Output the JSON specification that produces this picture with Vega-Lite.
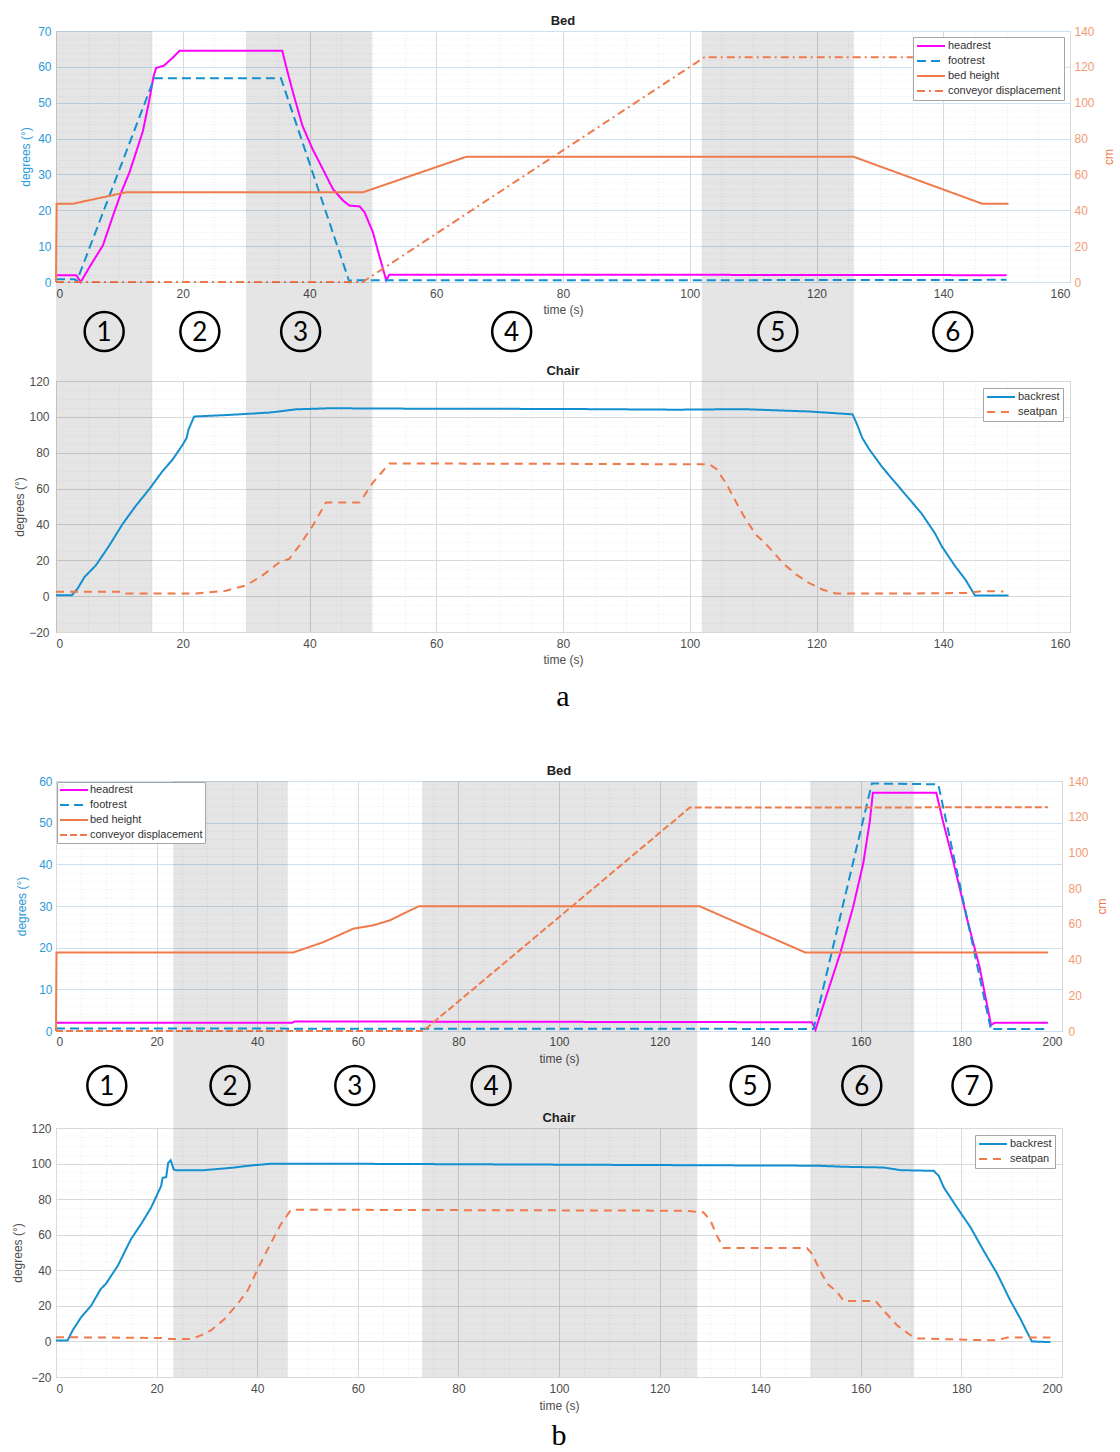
{
"$schema": "https://vega.github.io/schema/vega-lite/v6.json",
"padding": {"left": 11, "top": 14, "right": 0, "bottom": 0},
"bounds": "flush",
"spacing": 0,
"resolve": {"scale": {"color": "independent", "strokeDash": "independent"}},
"config": {
  "font": "Liberation Sans",
  "view": {"stroke": "#a6a6a6"},
  "axis": {"labelFont": "Liberation Sans", "labelFontSize": 12, "labelColor": "#4d4d4d", "titleFont": "Liberation Sans", "titleFontSize": 12, "titleFontWeight": "normal", "titleColor": "#4d4d4d", "domain": false, "ticks": false, "labelOverlap": false},
  "title": {"font": "Liberation Sans", "fontSize": 13, "fontWeight": "bold", "color": "#222222", "offset": -3},
  "legend": {"labelFont": "Liberation Sans", "clipHeight": 12}
},
"datasets": {
  "aReg": [{"start": 0, "end": 15.2}, {"start": 30, "end": 49.9}, {"start": 101.9, "end": 125.9}],
  "bReg": [{"start": 23.3, "end": 46.1}, {"start": 72.8, "end": 127.5}, {"start": 150, "end": 170.6}],
  "aCirc": [{"t": 7.6, "n": "1"}, {"t": 22.7, "n": "2"}, {"t": 38.6, "n": "3"}, {"t": 71.9, "n": "4"}, {"t": 113.9, "n": "5"}, {"t": 141.5, "n": "6"}],
  "bCirc": [{"t": 10.1, "n": "1"}, {"t": 34.6, "n": "2"}, {"t": 59.4, "n": "3"}, {"t": 86.5, "n": "4"}, {"t": 138, "n": "5"}, {"t": 160.2, "n": "6"}, {"t": 182.1, "n": "7"}],
  "aLab": [{"lab": "a"}],
  "bLab": [{"lab": "b"}],
  "aBed": [
    {"s": "headrest", "t": 0, "v": 1.9}, {"s": "headrest", "t": 3.2, "v": 1.9}, {"s": "headrest", "t": 3.9, "v": 0}, {"s": "headrest", "t": 5.3, "v": 4.2}, {"s": "headrest", "t": 7.4, "v": 10.2}, {"s": "headrest", "t": 8.9, "v": 18}, {"s": "headrest", "t": 10.3, "v": 25}, {"s": "headrest", "t": 11.6, "v": 30.6}, {"s": "headrest", "t": 12.6, "v": 36}, {"s": "headrest", "t": 13.7, "v": 42}, {"s": "headrest", "t": 14.7, "v": 50.5}, {"s": "headrest", "t": 15.4, "v": 57.4}, {"s": "headrest", "t": 15.8, "v": 59.7}, {"s": "headrest", "t": 16.4, "v": 60}, {"s": "headrest", "t": 17, "v": 60.3}, {"s": "headrest", "t": 18.4, "v": 62.5}, {"s": "headrest", "t": 19.5, "v": 64.5}, {"s": "headrest", "t": 35.7, "v": 64.5}, {"s": "headrest", "t": 36.3, "v": 60.2}, {"s": "headrest", "t": 37.4, "v": 52.8}, {"s": "headrest", "t": 38.9, "v": 43.5}, {"s": "headrest", "t": 40.5, "v": 37}, {"s": "headrest", "t": 42.1, "v": 31.5}, {"s": "headrest", "t": 43.7, "v": 25.9}, {"s": "headrest", "t": 45.3, "v": 22.7}, {"s": "headrest", "t": 46.3, "v": 21.3}, {"s": "headrest", "t": 47.9, "v": 21.1}, {"s": "headrest", "t": 48.7, "v": 19.4}, {"s": "headrest", "t": 50, "v": 13.9}, {"s": "headrest", "t": 51, "v": 7.4}, {"s": "headrest", "t": 52.1, "v": 0.5}, {"s": "headrest", "t": 52.6, "v": 2}, {"s": "headrest", "t": 100, "v": 2}, {"s": "headrest", "t": 150, "v": 1.9},
    {"s": "footrest", "t": 0, "v": 0.8}, {"s": "footrest", "t": 2.9, "v": 0.8}, {"s": "footrest", "t": 3.3, "v": 0.3}, {"s": "footrest", "t": 15.5, "v": 56.8}, {"s": "footrest", "t": 35.5, "v": 56.8}, {"s": "footrest", "t": 46.3, "v": 0}, {"s": "footrest", "t": 46.6, "v": 0.5}, {"s": "footrest", "t": 100, "v": 0.5}, {"s": "footrest", "t": 150, "v": 0.6},
    {"s": "bed height", "t": 0, "v": 0}, {"s": "bed height", "t": 0.1, "v": 43.6}, {"s": "bed height", "t": 2.6, "v": 43.6}, {"s": "bed height", "t": 11, "v": 50}, {"s": "bed height", "t": 48.4, "v": 50}, {"s": "bed height", "t": 64.7, "v": 69.8}, {"s": "bed height", "t": 125.9, "v": 69.8}, {"s": "bed height", "t": 146.2, "v": 43.6}, {"s": "bed height", "t": 150.3, "v": 43.6},
    {"s": "conveyor displacement", "t": 0, "v": 0}, {"s": "conveyor displacement", "t": 48.4, "v": 0}, {"s": "conveyor displacement", "t": 102.3, "v": 125.3}, {"s": "conveyor displacement", "t": 150.3, "v": 125.3}
  ],
  "aChair": [
    {"s": "backrest", "t": 0, "v": 0.5}, {"s": "backrest", "t": 2.5, "v": 0.5}, {"s": "backrest", "t": 3.4, "v": 4.2}, {"s": "backrest", "t": 4.5, "v": 10.7}, {"s": "backrest", "t": 6.3, "v": 17.2}, {"s": "backrest", "t": 8.4, "v": 28.2}, {"s": "backrest", "t": 10.5, "v": 40.2}, {"s": "backrest", "t": 12.6, "v": 50.4}, {"s": "backrest", "t": 14.7, "v": 59.6}, {"s": "backrest", "t": 16.8, "v": 69.7}, {"s": "backrest", "t": 18.4, "v": 76.2}, {"s": "backrest", "t": 20, "v": 84.5}, {"s": "backrest", "t": 20.6, "v": 88.2}, {"s": "backrest", "t": 20.9, "v": 92.8}, {"s": "backrest", "t": 21.8, "v": 100.2}, {"s": "backrest", "t": 27.4, "v": 101.1}, {"s": "backrest", "t": 33.7, "v": 102.4}, {"s": "backrest", "t": 37.9, "v": 104.2}, {"s": "backrest", "t": 43.2, "v": 104.8}, {"s": "backrest", "t": 53.7, "v": 104.6}, {"s": "backrest", "t": 80, "v": 104.4}, {"s": "backrest", "t": 97.9, "v": 104}, {"s": "backrest", "t": 108.4, "v": 104.3}, {"s": "backrest", "t": 118.8, "v": 103}, {"s": "backrest", "t": 125.7, "v": 101.4}, {"s": "backrest", "t": 126.4, "v": 95.8}, {"s": "backrest", "t": 127.2, "v": 88.4}, {"s": "backrest", "t": 128.3, "v": 82}, {"s": "backrest", "t": 130.4, "v": 71.8}, {"s": "backrest", "t": 133.5, "v": 58.9}, {"s": "backrest", "t": 136.6, "v": 46}, {"s": "backrest", "t": 138.7, "v": 35}, {"s": "backrest", "t": 139.8, "v": 27.6}, {"s": "backrest", "t": 141.9, "v": 16.6}, {"s": "backrest", "t": 143.5, "v": 9.2}, {"s": "backrest", "t": 145, "v": 0.4}, {"s": "backrest", "t": 150.3, "v": 0.4},
    {"s": "seatpan", "t": 0, "v": 2.5}, {"s": "seatpan", "t": 10.5, "v": 2.5}, {"s": "seatpan", "t": 11, "v": 1.5}, {"s": "seatpan", "t": 22.1, "v": 1.5}, {"s": "seatpan", "t": 26.8, "v": 3}, {"s": "seatpan", "t": 30, "v": 6}, {"s": "seatpan", "t": 32.6, "v": 11.6}, {"s": "seatpan", "t": 35.3, "v": 19}, {"s": "seatpan", "t": 36.8, "v": 20.8}, {"s": "seatpan", "t": 38.4, "v": 28.2}, {"s": "seatpan", "t": 40.5, "v": 39.3}, {"s": "seatpan", "t": 42.6, "v": 52.2}, {"s": "seatpan", "t": 47.9, "v": 52.2}, {"s": "seatpan", "t": 50, "v": 63.3}, {"s": "seatpan", "t": 52.6, "v": 74}, {"s": "seatpan", "t": 80, "v": 73.8}, {"s": "seatpan", "t": 103.1, "v": 73.5}, {"s": "seatpan", "t": 104.2, "v": 70.9}, {"s": "seatpan", "t": 105.8, "v": 62.6}, {"s": "seatpan", "t": 107.3, "v": 52.5}, {"s": "seatpan", "t": 108.9, "v": 42.4}, {"s": "seatpan", "t": 110.5, "v": 34.1}, {"s": "seatpan", "t": 111.8, "v": 29.8}, {"s": "seatpan", "t": 113.1, "v": 24.9}, {"s": "seatpan", "t": 114.7, "v": 18.4}, {"s": "seatpan", "t": 116.8, "v": 12}, {"s": "seatpan", "t": 118.8, "v": 7.4}, {"s": "seatpan", "t": 120.9, "v": 3.7}, {"s": "seatpan", "t": 123, "v": 1.5}, {"s": "seatpan", "t": 134.6, "v": 1.5}, {"s": "seatpan", "t": 144, "v": 1.8}, {"s": "seatpan", "t": 146.1, "v": 2.8}, {"s": "seatpan", "t": 149.5, "v": 2.6}
  ],
  "bBed": [
    {"s": "headrest", "t": 0, "v": 2}, {"s": "headrest", "t": 47, "v": 2}, {"s": "headrest", "t": 47.5, "v": 2.3}, {"s": "headrest", "t": 100, "v": 2.2}, {"s": "headrest", "t": 150.3, "v": 2.1}, {"s": "headrest", "t": 151, "v": 0.3}, {"s": "headrest", "t": 153.3, "v": 9}, {"s": "headrest", "t": 155.9, "v": 18.6}, {"s": "headrest", "t": 158.5, "v": 29.9}, {"s": "headrest", "t": 160.5, "v": 40.3}, {"s": "headrest", "t": 161.8, "v": 50.4}, {"s": "headrest", "t": 162.4, "v": 57.2}, {"s": "headrest", "t": 175, "v": 57.2}, {"s": "headrest", "t": 176.4, "v": 50}, {"s": "headrest", "t": 178.3, "v": 41.1}, {"s": "headrest", "t": 181, "v": 27.5}, {"s": "headrest", "t": 183.6, "v": 15.4}, {"s": "headrest", "t": 185.9, "v": 1.4}, {"s": "headrest", "t": 186.6, "v": 2}, {"s": "headrest", "t": 197.2, "v": 2},
    {"s": "footrest", "t": 0, "v": 0.6}, {"s": "footrest", "t": 150.6, "v": 0.5}, {"s": "footrest", "t": 162.2, "v": 59.4}, {"s": "footrest", "t": 175.4, "v": 59.2}, {"s": "footrest", "t": 185.9, "v": 0.2}, {"s": "footrest", "t": 186.5, "v": 0.5}, {"s": "footrest", "t": 197.2, "v": 0.5},
    {"s": "bed height", "t": 0, "v": 0}, {"s": "bed height", "t": 0.1, "v": 43.9}, {"s": "bed height", "t": 47.1, "v": 43.9}, {"s": "bed height", "t": 53.2, "v": 49.8}, {"s": "bed height", "t": 59.1, "v": 57.3}, {"s": "bed height", "t": 63.1, "v": 59.2}, {"s": "bed height", "t": 66.4, "v": 62}, {"s": "bed height", "t": 69.7, "v": 66.6}, {"s": "bed height", "t": 72.1, "v": 69.8}, {"s": "bed height", "t": 128, "v": 69.8}, {"s": "bed height", "t": 149, "v": 43.9}, {"s": "bed height", "t": 197.2, "v": 43.9},
    {"s": "conveyor displacement", "t": 0, "v": 0}, {"s": "conveyor displacement", "t": 73, "v": 0}, {"s": "conveyor displacement", "t": 126, "v": 125.1}, {"s": "conveyor displacement", "t": 197.2, "v": 125.3}
  ],
  "bChair": [
    {"s": "backrest", "t": 0, "v": 0.5}, {"s": "backrest", "t": 2.3, "v": 0.5}, {"s": "backrest", "t": 3.3, "v": 6.2}, {"s": "backrest", "t": 5, "v": 13.6}, {"s": "backrest", "t": 7, "v": 20.2}, {"s": "backrest", "t": 8.9, "v": 29.5}, {"s": "backrest", "t": 9.9, "v": 32.3}, {"s": "backrest", "t": 12.3, "v": 42.6}, {"s": "backrest", "t": 14.9, "v": 57.5}, {"s": "backrest", "t": 16.9, "v": 65.9}, {"s": "backrest", "t": 18.9, "v": 75.2}, {"s": "backrest", "t": 20.9, "v": 87.4}, {"s": "backrest", "t": 21.2, "v": 92}, {"s": "backrest", "t": 21.9, "v": 92.4}, {"s": "backrest", "t": 22.3, "v": 100.4}, {"s": "backrest", "t": 22.8, "v": 101.9}, {"s": "backrest", "t": 23.4, "v": 96.7}, {"s": "backrest", "t": 23.8, "v": 96.3}, {"s": "backrest", "t": 29.5, "v": 96.3}, {"s": "backrest", "t": 34.8, "v": 97.6}, {"s": "backrest", "t": 38.7, "v": 98.9}, {"s": "backrest", "t": 42.7, "v": 99.9}, {"s": "backrest", "t": 57.3, "v": 99.9}, {"s": "backrest", "t": 124.7, "v": 99.1}, {"s": "backrest", "t": 151.3, "v": 98.8}, {"s": "backrest", "t": 156.6, "v": 98.2}, {"s": "backrest", "t": 164.5, "v": 97.8}, {"s": "backrest", "t": 167.9, "v": 96.3}, {"s": "backrest", "t": 174.5, "v": 95.9}, {"s": "backrest", "t": 175.5, "v": 93.1}, {"s": "backrest", "t": 176.5, "v": 86.6}, {"s": "backrest", "t": 179.1, "v": 75.4}, {"s": "backrest", "t": 181.8, "v": 64.2}, {"s": "backrest", "t": 184.4, "v": 51.1}, {"s": "backrest", "t": 187.1, "v": 38.1}, {"s": "backrest", "t": 189.7, "v": 23.1}, {"s": "backrest", "t": 191.7, "v": 12.9}, {"s": "backrest", "t": 194, "v": 0}, {"s": "backrest", "t": 197.7, "v": -0.4},
    {"s": "seatpan", "t": 0, "v": 2.4}, {"s": "seatpan", "t": 8.9, "v": 2.2}, {"s": "seatpan", "t": 21, "v": 1.9}, {"s": "seatpan", "t": 22.8, "v": 1.3}, {"s": "seatpan", "t": 26.8, "v": 1.3}, {"s": "seatpan", "t": 28.8, "v": 3.4}, {"s": "seatpan", "t": 30.8, "v": 6.2}, {"s": "seatpan", "t": 33.4, "v": 12.3}, {"s": "seatpan", "t": 36.1, "v": 21.1}, {"s": "seatpan", "t": 38.1, "v": 28.6}, {"s": "seatpan", "t": 40.1, "v": 40.7}, {"s": "seatpan", "t": 42.1, "v": 51.9}, {"s": "seatpan", "t": 44.7, "v": 65.9}, {"s": "seatpan", "t": 46.7, "v": 74}, {"s": "seatpan", "t": 57.3, "v": 74}, {"s": "seatpan", "t": 124.7, "v": 73.5}, {"s": "seatpan", "t": 128.7, "v": 72.6}, {"s": "seatpan", "t": 130.1, "v": 68}, {"s": "seatpan", "t": 131.4, "v": 59.5}, {"s": "seatpan", "t": 132.7, "v": 52.5}, {"s": "seatpan", "t": 149.3, "v": 52.5}, {"s": "seatpan", "t": 150.3, "v": 49.3}, {"s": "seatpan", "t": 151.9, "v": 39.9}, {"s": "seatpan", "t": 153.3, "v": 32.5}, {"s": "seatpan", "t": 155.3, "v": 27.8}, {"s": "seatpan", "t": 156.6, "v": 22.8}, {"s": "seatpan", "t": 162.9, "v": 22.8}, {"s": "seatpan", "t": 164.5, "v": 17.5}, {"s": "seatpan", "t": 167.2, "v": 9.1}, {"s": "seatpan", "t": 169.9, "v": 3.5}, {"s": "seatpan", "t": 171.2, "v": 1.7}, {"s": "seatpan", "t": 184.4, "v": 0.7}, {"s": "seatpan", "t": 187.1, "v": 0.7}, {"s": "seatpan", "t": 189.1, "v": 2.2}, {"s": "seatpan", "t": 197.7, "v": 2.2}
  ]
},
"vconcat": [
  {
    "width": 1014, "height": 251,
    "title": "Bed",
    "layer": [
      {"data": {"name": "aReg"}, "mark": {"type": "rect", "fill": "#000000", "opacity": 0.1},
       "encoding": {
         "x": {"field": "start", "type": "quantitative", "scale": {"domain": [0, 160], "nice": false, "zero": false},
               "axis": {"title": "time (s)", "values": [0,5,10,15,20,25,30,35,40,45,50,55,60,65,70,75,80,85,90,95,100,105,110,115,120,125,130,135,140,145,150,155,160], "labelExpr": "datum.value % 20 === 0 ? datum.label : ''", "gridColor": {"condition": {"test": "datum.value % 20 === 0", "value": "#d9d9d9"}, "value": "#ececec"}, "gridDash": {"condition": {"test": "datum.value % 20 === 0", "value": []}, "value": [1, 2]}, "labelPadding": 6, "titlePadding": 5}},
         "x2": {"field": "end"}}},
      {"data": {"name": "aBed"}, "transform": [{"filter": {"field": "s", "oneOf": ["headrest", "footrest"]}}],
       "mark": {"type": "line", "strokeWidth": 2},
       "encoding": {
         "x": {"field": "t", "type": "quantitative", "scale": {"domain": [0, 160], "nice": false, "zero": false},
               "axis": {"title": "time (s)", "values": [0,5,10,15,20,25,30,35,40,45,50,55,60,65,70,75,80,85,90,95,100,105,110,115,120,125,130,135,140,145,150,155,160], "labelExpr": "datum.value % 20 === 0 ? datum.label : ''", "gridColor": {"condition": {"test": "datum.value % 20 === 0", "value": "#d9d9d9"}, "value": "#ececec"}, "gridDash": {"condition": {"test": "datum.value % 20 === 0", "value": []}, "value": [1, 2]}, "labelPadding": 6, "titlePadding": 5}},
         "y": {"field": "v", "type": "quantitative", "scale": {"domain": [0, 70], "nice": false},
               "axis": {"orient": "left", "title": "degrees (°)", "values": [0,2,4,6,8,10,12,14,16,18,20,22,24,26,28,30,32,34,36,38,40,42,44,46,48,50,52,54,56,58,60,62,64,66,68,70], "labelExpr": "datum.value % 10 === 0 ? datum.label : ''", "labelColor": "#2a9ad8", "titleColor": "#2a9ad8", "labelPadding": 5, "titlePadding": 5, "gridColor": {"condition": {"test": "datum.value % 10 === 0", "value": "#cfe1ef"}, "value": "#e4eef7"}, "gridDash": {"condition": {"test": "datum.value % 10 === 0", "value": []}, "value": [1, 2]}}},
         "color": {"field": "s", "type": "nominal", "scale": {"domain": ["headrest", "footrest", "bed height", "conveyor displacement"], "range": ["#ff00ff", "#148fcf", "#ef7a4c", "#ef7a4c"]},
                   "legend": {"title": null, "orient": "top-right", "offset": 6, "fillColor": "white", "strokeColor": "#a6a6a6", "padding": 3, "symbolType": "stroke", "symbolSize": 784, "symbolStrokeWidth": 2, "labelFontSize": 11, "labelColor": "#333333", "rowPadding": 3, "labelOffset": 2}},
         "strokeDash": {"field": "s", "type": "nominal", "scale": {"domain": ["headrest", "footrest", "bed height", "conveyor displacement"], "range": [[1, 0], [9, 5], [1, 0], [8, 4, 2, 4]]},
                   "legend": {"title": null, "orient": "top-right", "offset": 6, "fillColor": "white", "strokeColor": "#a6a6a6", "padding": 3, "symbolType": "stroke", "symbolSize": 784, "symbolStrokeWidth": 2, "labelFontSize": 11, "labelColor": "#333333", "rowPadding": 3, "labelOffset": 2}}}},
      {"data": {"name": "aBed"}, "transform": [{"filter": {"field": "s", "oneOf": ["bed height", "conveyor displacement"]}}],
       "mark": {"type": "line", "strokeWidth": 2},
       "encoding": {
         "x": {"field": "t", "type": "quantitative", "scale": {"domain": [0, 160], "nice": false, "zero": false},
               "axis": {"title": "time (s)", "values": [0,5,10,15,20,25,30,35,40,45,50,55,60,65,70,75,80,85,90,95,100,105,110,115,120,125,130,135,140,145,150,155,160], "labelExpr": "datum.value % 20 === 0 ? datum.label : ''", "gridColor": {"condition": {"test": "datum.value % 20 === 0", "value": "#d9d9d9"}, "value": "#ececec"}, "gridDash": {"condition": {"test": "datum.value % 20 === 0", "value": []}, "value": [1, 2]}, "labelPadding": 6, "titlePadding": 5}},
         "y": {"field": "v", "type": "quantitative", "scale": {"domain": [0, 140], "nice": false},
               "axis": {"orient": "right", "title": "cm", "titleAngle": 270, "titleBaseline": "top", "values": [0, 20, 40, 60, 80, 100, 120, 140], "grid": false, "labelColor": "#f39a73", "titleColor": "#ef7a4c", "labelPadding": 4, "titlePadding": 9}},
         "color": {"field": "s", "type": "nominal", "scale": {"domain": ["headrest", "footrest", "bed height", "conveyor displacement"], "range": ["#ff00ff", "#148fcf", "#ef7a4c", "#ef7a4c"]},
                   "legend": {"title": null, "orient": "top-right", "offset": 6, "fillColor": "white", "strokeColor": "#a6a6a6", "padding": 3, "symbolType": "stroke", "symbolSize": 784, "symbolStrokeWidth": 2, "labelFontSize": 11, "labelColor": "#333333", "rowPadding": 3, "labelOffset": 2}},
         "strokeDash": {"field": "s", "type": "nominal", "scale": {"domain": ["headrest", "footrest", "bed height", "conveyor displacement"], "range": [[1, 0], [9, 5], [1, 0], [8, 4, 2, 4]]},
                   "legend": {"title": null, "orient": "top-right", "offset": 6, "fillColor": "white", "strokeColor": "#a6a6a6", "padding": 3, "symbolType": "stroke", "symbolSize": 784, "symbolStrokeWidth": 2, "labelFontSize": 11, "labelColor": "#333333", "rowPadding": 3, "labelOffset": 2}}}}
    ],
    "resolve": {"scale": {"y": "independent"}}
  },
  {
    "width": 1014, "height": 99,
    "view": {"stroke": null},
    "layer": [
      {"data": {"name": "aReg"}, "mark": {"type": "rect", "fill": "#000000", "opacity": 0.1},
       "encoding": {"x": {"field": "start", "type": "quantitative", "scale": {"domain": [0, 160], "nice": false, "zero": false}, "axis": null}, "x2": {"field": "end"}}},
      {"data": {"name": "aCirc"}, "mark": {"type": "point", "shape": "circle", "filled": false, "size": 1520, "stroke": "#000000", "strokeWidth": 2.5, "opacity": 1},
       "encoding": {"x": {"field": "t", "type": "quantitative", "scale": {"domain": [0, 160], "nice": false, "zero": false}, "axis": null}}},
      {"data": {"name": "aCirc"}, "mark": {"type": "text", "font": "Lato", "fontSize": 26, "color": "#000000", "baseline": "middle", "dy": 1},
       "encoding": {"x": {"field": "t", "type": "quantitative", "scale": {"domain": [0, 160], "nice": false, "zero": false}, "axis": null}, "text": {"field": "n"}}}
    ]
  },
  {
    "width": 1014, "height": 251,
    "title": "Chair",
    "layer": [
      {"data": {"name": "aReg"}, "mark": {"type": "rect", "fill": "#000000", "opacity": 0.1},
       "encoding": {
         "x": {"field": "start", "type": "quantitative", "scale": {"domain": [0, 160], "nice": false, "zero": false},
               "axis": {"title": "time (s)", "values": [0,5,10,15,20,25,30,35,40,45,50,55,60,65,70,75,80,85,90,95,100,105,110,115,120,125,130,135,140,145,150,155,160], "labelExpr": "datum.value % 20 === 0 ? datum.label : ''", "gridColor": {"condition": {"test": "datum.value % 20 === 0", "value": "#d9d9d9"}, "value": "#ececec"}, "gridDash": {"condition": {"test": "datum.value % 20 === 0", "value": []}, "value": [1, 2]}, "labelPadding": 6, "titlePadding": 5}},
         "x2": {"field": "end"}}},
      {"data": {"name": "aChair"}, "mark": {"type": "line", "strokeWidth": 2},
       "encoding": {
         "x": {"field": "t", "type": "quantitative", "scale": {"domain": [0, 160], "nice": false, "zero": false},
               "axis": {"title": "time (s)", "values": [0,5,10,15,20,25,30,35,40,45,50,55,60,65,70,75,80,85,90,95,100,105,110,115,120,125,130,135,140,145,150,155,160], "labelExpr": "datum.value % 20 === 0 ? datum.label : ''", "gridColor": {"condition": {"test": "datum.value % 20 === 0", "value": "#d9d9d9"}, "value": "#ececec"}, "gridDash": {"condition": {"test": "datum.value % 20 === 0", "value": []}, "value": [1, 2]}, "labelPadding": 6, "titlePadding": 5}},
         "y": {"field": "v", "type": "quantitative", "scale": {"domain": [-20, 120], "nice": false},
               "axis": {"title": "degrees (°)", "values": [-20,-15,-10,-5,0,5,10,15,20,25,30,35,40,45,50,55,60,65,70,75,80,85,90,95,100,105,110,115,120], "labelExpr": "datum.value % 20 === 0 ? datum.label : ''", "labelPadding": 7, "titlePadding": 2, "gridColor": {"condition": {"test": "datum.value % 20 === 0", "value": "#d9d9d9"}, "value": "#ececec"}, "gridDash": {"condition": {"test": "datum.value % 20 === 0", "value": []}, "value": [1, 2]}}},
         "color": {"field": "s", "type": "nominal", "scale": {"domain": ["backrest", "seatpan"], "range": ["#148fcf", "#ef7a4c"]},
                   "legend": {"title": null, "orient": "top-right", "offset": 7, "fillColor": "white", "strokeColor": "#a6a6a6", "padding": 3, "symbolType": "stroke", "symbolSize": 784, "symbolStrokeWidth": 2, "labelFontSize": 11, "labelColor": "#333333", "rowPadding": 3, "labelOffset": 2}},
         "strokeDash": {"field": "s", "type": "nominal", "scale": {"domain": ["backrest", "seatpan"], "range": [[1, 0], [8, 6]]},
                   "legend": {"title": null, "orient": "top-right", "offset": 7, "fillColor": "white", "strokeColor": "#a6a6a6", "padding": 3, "symbolType": "stroke", "symbolSize": 784, "symbolStrokeWidth": 2, "labelFontSize": 11, "labelColor": "#333333", "rowPadding": 3, "labelOffset": 2}}}}
    ]
  },
  {
    "width": 1014, "height": 149,
    "view": {"stroke": null},
    "data": {"name": "aLab"},
    "mark": {"type": "text", "font": "Liberation Serif", "fontSize": 30, "color": "#000000", "baseline": "middle", "dy": -10},
    "encoding": {"text": {"field": "lab"}}
  },
  {
    "width": 1006, "height": 250,
    "title": "Bed",
    "layer": [
      {"data": {"name": "bReg"}, "mark": {"type": "rect", "fill": "#000000", "opacity": 0.1},
       "encoding": {
         "x": {"field": "start", "type": "quantitative", "scale": {"domain": [0, 200], "nice": false, "zero": false},
               "axis": {"title": "time (s)", "values": [0,5,10,15,20,25,30,35,40,45,50,55,60,65,70,75,80,85,90,95,100,105,110,115,120,125,130,135,140,145,150,155,160,165,170,175,180,185,190,195,200], "labelExpr": "datum.value % 20 === 0 ? datum.label : ''", "gridColor": {"condition": {"test": "datum.value % 20 === 0", "value": "#d9d9d9"}, "value": "#ececec"}, "gridDash": {"condition": {"test": "datum.value % 20 === 0", "value": []}, "value": [1, 2]}, "labelPadding": 5, "titlePadding": 6}},
         "x2": {"field": "end"}}},
      {"data": {"name": "bBed"}, "transform": [{"filter": {"field": "s", "oneOf": ["headrest", "footrest"]}}],
       "mark": {"type": "line", "strokeWidth": 2},
       "encoding": {
         "x": {"field": "t", "type": "quantitative", "scale": {"domain": [0, 200], "nice": false, "zero": false},
               "axis": {"title": "time (s)", "values": [0,5,10,15,20,25,30,35,40,45,50,55,60,65,70,75,80,85,90,95,100,105,110,115,120,125,130,135,140,145,150,155,160,165,170,175,180,185,190,195,200], "labelExpr": "datum.value % 20 === 0 ? datum.label : ''", "gridColor": {"condition": {"test": "datum.value % 20 === 0", "value": "#d9d9d9"}, "value": "#ececec"}, "gridDash": {"condition": {"test": "datum.value % 20 === 0", "value": []}, "value": [1, 2]}, "labelPadding": 5, "titlePadding": 6}},
         "y": {"field": "v", "type": "quantitative", "scale": {"domain": [0, 60], "nice": false},
               "axis": {"orient": "left", "title": "degrees (°)", "values": [0,2,4,6,8,10,12,14,16,18,20,22,24,26,28,30,32,34,36,38,40,42,44,46,48,50,52,54,56,58,60], "labelExpr": "datum.value % 10 === 0 ? datum.label : ''", "labelColor": "#2a9ad8", "titleColor": "#2a9ad8", "labelPadding": 4, "titlePadding": 10, "gridColor": {"condition": {"test": "datum.value % 10 === 0", "value": "#cfe1ef"}, "value": "#e4eef7"}, "gridDash": {"condition": {"test": "datum.value % 10 === 0", "value": []}, "value": [1, 2]}}},
         "color": {"field": "s", "type": "nominal", "scale": {"domain": ["headrest", "footrest", "bed height", "conveyor displacement"], "range": ["#ff00ff", "#148fcf", "#ef7a4c", "#ef7a4c"]},
                   "legend": {"title": null, "orient": "top-left", "offset": 1, "fillColor": "white", "strokeColor": "#a6a6a6", "padding": 2, "symbolType": "stroke", "symbolSize": 784, "symbolStrokeWidth": 2, "labelFontSize": 11, "labelColor": "#333333", "rowPadding": 3, "labelOffset": 1}},
         "strokeDash": {"field": "s", "type": "nominal", "scale": {"domain": ["headrest", "footrest", "bed height", "conveyor displacement"], "range": [[1, 0], [9, 5], [1, 0], [7, 3]]},
                   "legend": {"title": null, "orient": "top-left", "offset": 1, "fillColor": "white", "strokeColor": "#a6a6a6", "padding": 2, "symbolType": "stroke", "symbolSize": 784, "symbolStrokeWidth": 2, "labelFontSize": 11, "labelColor": "#333333", "rowPadding": 3, "labelOffset": 1}}}},
      {"data": {"name": "bBed"}, "transform": [{"filter": {"field": "s", "oneOf": ["bed height", "conveyor displacement"]}}],
       "mark": {"type": "line", "strokeWidth": 2},
       "encoding": {
         "x": {"field": "t", "type": "quantitative", "scale": {"domain": [0, 200], "nice": false, "zero": false},
               "axis": {"title": "time (s)", "values": [0,5,10,15,20,25,30,35,40,45,50,55,60,65,70,75,80,85,90,95,100,105,110,115,120,125,130,135,140,145,150,155,160,165,170,175,180,185,190,195,200], "labelExpr": "datum.value % 20 === 0 ? datum.label : ''", "gridColor": {"condition": {"test": "datum.value % 20 === 0", "value": "#d9d9d9"}, "value": "#ececec"}, "gridDash": {"condition": {"test": "datum.value % 20 === 0", "value": []}, "value": [1, 2]}, "labelPadding": 5, "titlePadding": 6}},
         "y": {"field": "v", "type": "quantitative", "scale": {"domain": [0, 140], "nice": false},
               "axis": {"orient": "right", "title": "cm", "titleAngle": 270, "titleBaseline": "top", "values": [0, 20, 40, 60, 80, 100, 120, 140], "grid": false, "labelColor": "#f39a73", "titleColor": "#ef7a4c", "labelPadding": 6, "titlePadding": 8}},
         "color": {"field": "s", "type": "nominal", "scale": {"domain": ["headrest", "footrest", "bed height", "conveyor displacement"], "range": ["#ff00ff", "#148fcf", "#ef7a4c", "#ef7a4c"]},
                   "legend": {"title": null, "orient": "top-left", "offset": 1, "fillColor": "white", "strokeColor": "#a6a6a6", "padding": 2, "symbolType": "stroke", "symbolSize": 784, "symbolStrokeWidth": 2, "labelFontSize": 11, "labelColor": "#333333", "rowPadding": 3, "labelOffset": 1}},
         "strokeDash": {"field": "s", "type": "nominal", "scale": {"domain": ["headrest", "footrest", "bed height", "conveyor displacement"], "range": [[1, 0], [9, 5], [1, 0], [7, 3]]},
                   "legend": {"title": null, "orient": "top-left", "offset": 1, "fillColor": "white", "strokeColor": "#a6a6a6", "padding": 2, "symbolType": "stroke", "symbolSize": 784, "symbolStrokeWidth": 2, "labelFontSize": 11, "labelColor": "#333333", "rowPadding": 3, "labelOffset": 1}}}}
    ],
    "resolve": {"scale": {"y": "independent"}}
  },
  {
    "width": 1006, "height": 97,
    "view": {"stroke": null},
    "layer": [
      {"data": {"name": "bReg"}, "mark": {"type": "rect", "fill": "#000000", "opacity": 0.1},
       "encoding": {"x": {"field": "start", "type": "quantitative", "scale": {"domain": [0, 200], "nice": false, "zero": false}, "axis": null}, "x2": {"field": "end"}}},
      {"data": {"name": "bCirc"}, "mark": {"type": "point", "shape": "circle", "filled": false, "size": 1520, "stroke": "#000000", "strokeWidth": 2.5, "opacity": 1, "yOffset": 6},
       "encoding": {"x": {"field": "t", "type": "quantitative", "scale": {"domain": [0, 200], "nice": false, "zero": false}, "axis": null}}},
      {"data": {"name": "bCirc"}, "mark": {"type": "text", "font": "Lato", "fontSize": 26, "color": "#000000", "baseline": "middle", "dy": 7},
       "encoding": {"x": {"field": "t", "type": "quantitative", "scale": {"domain": [0, 200], "nice": false, "zero": false}, "axis": null}, "text": {"field": "n"}}}
    ]
  },
  {
    "width": 1006, "height": 249,
    "title": "Chair",
    "layer": [
      {"data": {"name": "bReg"}, "mark": {"type": "rect", "fill": "#000000", "opacity": 0.1},
       "encoding": {
         "x": {"field": "start", "type": "quantitative", "scale": {"domain": [0, 200], "nice": false, "zero": false},
               "axis": {"title": "time (s)", "values": [0,5,10,15,20,25,30,35,40,45,50,55,60,65,70,75,80,85,90,95,100,105,110,115,120,125,130,135,140,145,150,155,160,165,170,175,180,185,190,195,200], "labelExpr": "datum.value % 20 === 0 ? datum.label : ''", "gridColor": {"condition": {"test": "datum.value % 20 === 0", "value": "#d9d9d9"}, "value": "#ececec"}, "gridDash": {"condition": {"test": "datum.value % 20 === 0", "value": []}, "value": [1, 2]}, "labelPadding": 6, "titlePadding": 6}},
         "x2": {"field": "end"}}},
      {"data": {"name": "bChair"}, "mark": {"type": "line", "strokeWidth": 2},
       "encoding": {
         "x": {"field": "t", "type": "quantitative", "scale": {"domain": [0, 200], "nice": false, "zero": false},
               "axis": {"title": "time (s)", "values": [0,5,10,15,20,25,30,35,40,45,50,55,60,65,70,75,80,85,90,95,100,105,110,115,120,125,130,135,140,145,150,155,160,165,170,175,180,185,190,195,200], "labelExpr": "datum.value % 20 === 0 ? datum.label : ''", "gridColor": {"condition": {"test": "datum.value % 20 === 0", "value": "#d9d9d9"}, "value": "#ececec"}, "gridDash": {"condition": {"test": "datum.value % 20 === 0", "value": []}, "value": [1, 2]}, "labelPadding": 6, "titlePadding": 6}},
         "y": {"field": "v", "type": "quantitative", "scale": {"domain": [-20, 120], "nice": false},
               "axis": {"title": "degrees (°)", "values": [-20,-15,-10,-5,0,5,10,15,20,25,30,35,40,45,50,55,60,65,70,75,80,85,90,95,100,105,110,115,120], "labelExpr": "datum.value % 20 === 0 ? datum.label : ''", "labelPadding": 5, "titlePadding": 6, "gridColor": {"condition": {"test": "datum.value % 20 === 0", "value": "#d9d9d9"}, "value": "#ececec"}, "gridDash": {"condition": {"test": "datum.value % 20 === 0", "value": []}, "value": [1, 2]}}},
         "color": {"field": "s", "type": "nominal", "scale": {"domain": ["backrest", "seatpan"], "range": ["#148fcf", "#ef7a4c"]},
                   "legend": {"title": null, "orient": "top-right", "offset": 7, "fillColor": "white", "strokeColor": "#a6a6a6", "padding": 3, "symbolType": "stroke", "symbolSize": 784, "symbolStrokeWidth": 2, "labelFontSize": 11, "labelColor": "#333333", "rowPadding": 3, "labelOffset": 2}},
         "strokeDash": {"field": "s", "type": "nominal", "scale": {"domain": ["backrest", "seatpan"], "range": [[1, 0], [8, 6]]},
                   "legend": {"title": null, "orient": "top-right", "offset": 7, "fillColor": "white", "strokeColor": "#a6a6a6", "padding": 3, "symbolType": "stroke", "symbolSize": 784, "symbolStrokeWidth": 2, "labelFontSize": 11, "labelColor": "#333333", "rowPadding": 3, "labelOffset": 2}}}}
    ]
  },
  {
    "width": 1006, "height": 72,
    "view": {"stroke": null},
    "data": {"name": "bLab"},
    "mark": {"type": "text", "font": "Liberation Serif", "fontSize": 30, "color": "#000000", "baseline": "middle", "dy": 23},
    "encoding": {"text": {"field": "lab"}}
  }
]
}
